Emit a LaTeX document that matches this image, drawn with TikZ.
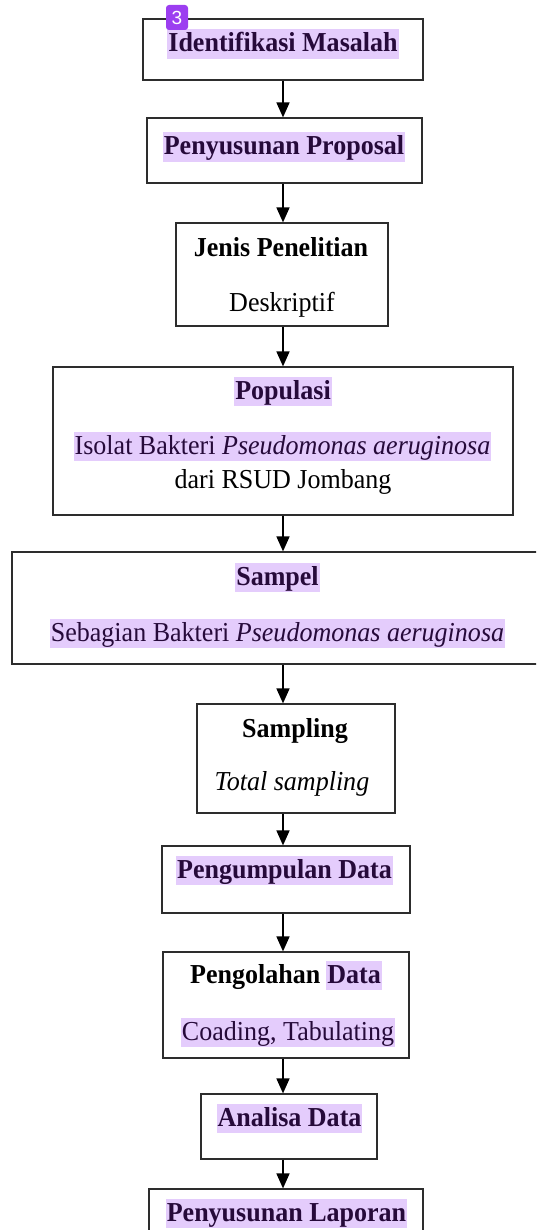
\documentclass[tikz,border=0pt]{standalone}
\usepackage{fontspec}
\setmainfont{Liberation Serif}[FakeStretch=0.95]
\newfontfamily\badgefont{Liberation Sans}
\usepackage{tikz}
\usetikzlibrary{arrows.meta, positioning}

\definecolor{hilite}{RGB}{228,204,252}
\definecolor{hitext}{RGB}{38,10,58}
\definecolor{badgeviolet}{RGB}{156,62,240}
\definecolor{boxline}{RGB}{45,45,45}

\begin{document}
\begin{tikzpicture}[x=1pt, y=-1pt,
    % Styles
    stepbox/.style={draw=boxline, line width=1.2pt, rectangle, inner sep=0pt},
    txt/.style={inner xsep=1pt, inner ysep=0.5pt, text height=22pt, text depth=6.5pt,
        font=\fontsize{27.4}{32}\selectfont},
    title/.style={txt, font=\fontsize{27.4}{32}\selectfont\bfseries},
    hl/.style={fill=hilite, text=hitext},
    flow/.style={-{Triangle[length=15pt, width=13pt]}, line width=1.6pt},
    badge/.style={fill=badgeviolet, rounded corners=3pt, minimum width=22pt, minimum height=25pt,
        inner sep=0pt, text=white, font=\badgefont\fontsize{19}{19}\selectfont},
]
    \clip (0,0) rectangle (536,1230);

    % Boxes - placed at coordinates of the scan
    \node[stepbox, minimum width=280pt, minimum height=61pt] (ident) at (283,49.5) {};
    \node[stepbox, minimum width=275pt, minimum height=65pt] (proposal) at (284.5,150.5) {};
    \node[stepbox, minimum width=212pt, minimum height=103pt] (jenis) at (282,274.5) {};
    \node[stepbox, minimum width=460pt, minimum height=148pt] (populasi) at (283,441) {};
    \node[stepbox, minimum width=543pt, minimum height=112pt] (sampel) at (283.5,608) {};
    \node[stepbox, minimum width=198pt, minimum height=109pt] (sampling) at (296,758.5) {};
    \node[stepbox, minimum width=248pt, minimum height=67pt] (kumpul) at (286,879.5) {};
    \node[stepbox, minimum width=246pt, minimum height=106pt] (olah) at (286,1005) {};
    \node[stepbox, minimum width=176pt, minimum height=65pt] (analisa) at (289,1126.5) {};
    \node[stepbox, minimum width=274pt, minimum height=71pt] (laporan) at (286,1224.5) {};

    % Texts - anchored on their baselines
    \node[title, hl, anchor=base] (identT) at (283,52) {Identifikasi Masalah};
    \node[title, hl, anchor=base] (proposalT) at (284,155) {Penyusunan Proposal};
    \node[title, anchor=base] (jenisT) at (281,257) {Jenis Penelitian};
    \node[txt, anchor=base] (jenisS) at (282,312) {Deskriptif};
    \node[title, hl, anchor=base] (populasiT) at (283,399) {Populasi};
    \node[txt, hl, anchor=base] (populasiS) at (282.5,454) {Isolat Bakteri \textit{Pseudomonas aeruginosa}};
    \node[txt, anchor=base] (populasiR) at (283,488) {dari RSUD Jombang};
    \node[title, hl, anchor=base] (sampelT) at (277.5,585) {Sampel};
    \node[txt, hl, anchor=base] (sampelS) at (277.5,641) {Sebagian Bakteri \textit{Pseudomonas aeruginosa}};
    \node[title, anchor=base] (samplingT) at (295,737) {Sampling};
    \node[txt, anchor=base] (samplingS) at (292,790) {\textit{Total sampling}};
    \node[title, hl, anchor=base] (kumpulT) at (284.5,878) {Pengumpulan Data};
    \node[title, anchor=base west, inner xsep=0pt] (olahT) at (190,983) {Pengolahan};
    \node[title, hl, base right=5.5pt of olahT] (olahD) {Data};
    \node[txt, hl, anchor=base] (olahS) at (288,1040) {Coading, Tabulating};
    \node[title, hl, anchor=base] (analisaT) at (289.5,1126) {Analisa Data};
    \node[title, hl, anchor=base] (laporanT) at (286.5,1221) {Penyusunan Laporan};

    % Flow arrows on one spine
    \coordinate (spine) at (283,0);
    \draw[flow] (ident.south -| spine) -- (proposal.north -| spine);
    \draw[flow] (proposal.south -| spine) -- (jenis.north -| spine);
    \draw[flow] (jenis.south -| spine) -- (populasi.north -| spine);
    \draw[flow] (populasi.south -| spine) -- (sampel.north -| spine);
    \draw[flow] (sampel.south -| spine) -- (sampling.north -| spine);
    \draw[flow] (sampling.south -| spine) -- (kumpul.north -| spine);
    \draw[flow] (kumpul.south -| spine) -- (olah.north -| spine);
    \draw[flow] (olah.south -| spine) -- (analisa.north -| spine);
    \draw[flow] (analisa.south -| spine) -- (laporan.north -| spine);

    % Marker badge
    \node[badge] (mark) at (177,17.5) {3};
\end{tikzpicture}
\end{document}
